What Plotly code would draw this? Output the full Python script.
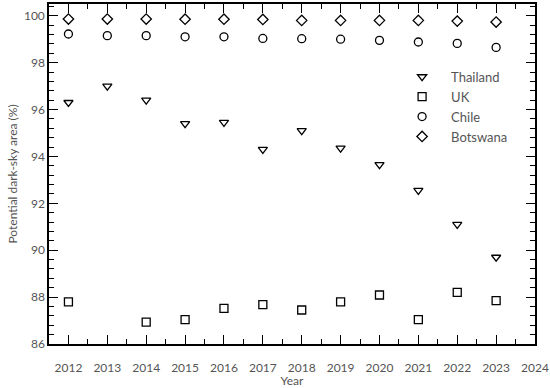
import plotly.graph_objects as go

years = list(range(2012, 2024))

thailand = [96.3, 97.0, 96.4, 95.4, 95.45, 94.3, 95.1, 94.35, 93.65, 92.55, 91.1, 89.7]
uk = [87.8, None, 86.93, 87.04, 87.52, 87.68, 87.45, 87.8, 88.09, 87.04, 88.2, 87.85]
chile = [99.22, 99.15, 99.15, 99.1, 99.1, 99.03, 99.02, 99.0, 98.95, 98.88, 98.82, 98.65]
botswana = [99.86, 99.86, 99.86, 99.85, 99.85, 99.84, 99.8, 99.8, 99.8, 99.8, 99.77, 99.73]

series = [
    ("Thailand", thailand, "triangle-down-open"),
    ("UK", uk, "square-open"),
    ("Chile", chile, "circle-open"),
    ("Botswana", botswana, "diamond-open"),
]

fig = go.Figure()
for name, vals, sym in series:
    fig.add_trace(go.Scatter(
        x=years, y=vals, mode="markers", name=name,
        marker=dict(symbol=sym, size=8, color="black", line=dict(width=1.3, color="black")),
    ))

axis_common = dict(
    showline=True, linecolor="black", linewidth=1.5, mirror="ticks",
    ticks="inside", ticklen=9, tickcolor="black", tickwidth=1.3,
    showgrid=False, zeroline=False, automargin=False,
    tickfont=dict(size=12, color="#555555"),
)

fig.update_xaxes(
    range=[2011.5, 2024], dtick=1, tick0=2012,
    minor=dict(dtick=0.5, tick0=2012, ticks="inside", ticklen=5, tickcolor="black", tickwidth=1.2),
    title=dict(text="Year", font=dict(size=12, color="#555555"), standoff=0),
    ticklabelstandoff=12,
    **axis_common,
)
fig.update_yaxes(
    range=[86, 100.5], dtick=2, tick0=86,
    minor=dict(dtick=0.4, tick0=86, ticks="inside", ticklen=5, tickcolor="black", tickwidth=1.2),
    title=dict(text="Potential dark-sky area (%)", font=dict(size=12, color="#555555"), standoff=4),
    ticklabelstandoff=0,
    **axis_common,
)

fig.update_layout(
    width=550, height=388,
    margin=dict(l=49, r=15, t=4, b=44),
    paper_bgcolor="white", plot_bgcolor="white",
    font=dict(family="Lato", color="#555555"),
    legend=dict(x=0.708, y=0.83, xanchor="left", yanchor="top", itemwidth=48,
                bgcolor="rgba(0,0,0,0)", font=dict(size=13, color="#555555"),
                tracegroupgap=4),
    showlegend=True,
)

# page body has a default 8px margin; drop it so the figure sits at the window corner
fig.write_html("out.html", config={"displayModeBar": False},
               post_script="document.body.style.margin='0';")
